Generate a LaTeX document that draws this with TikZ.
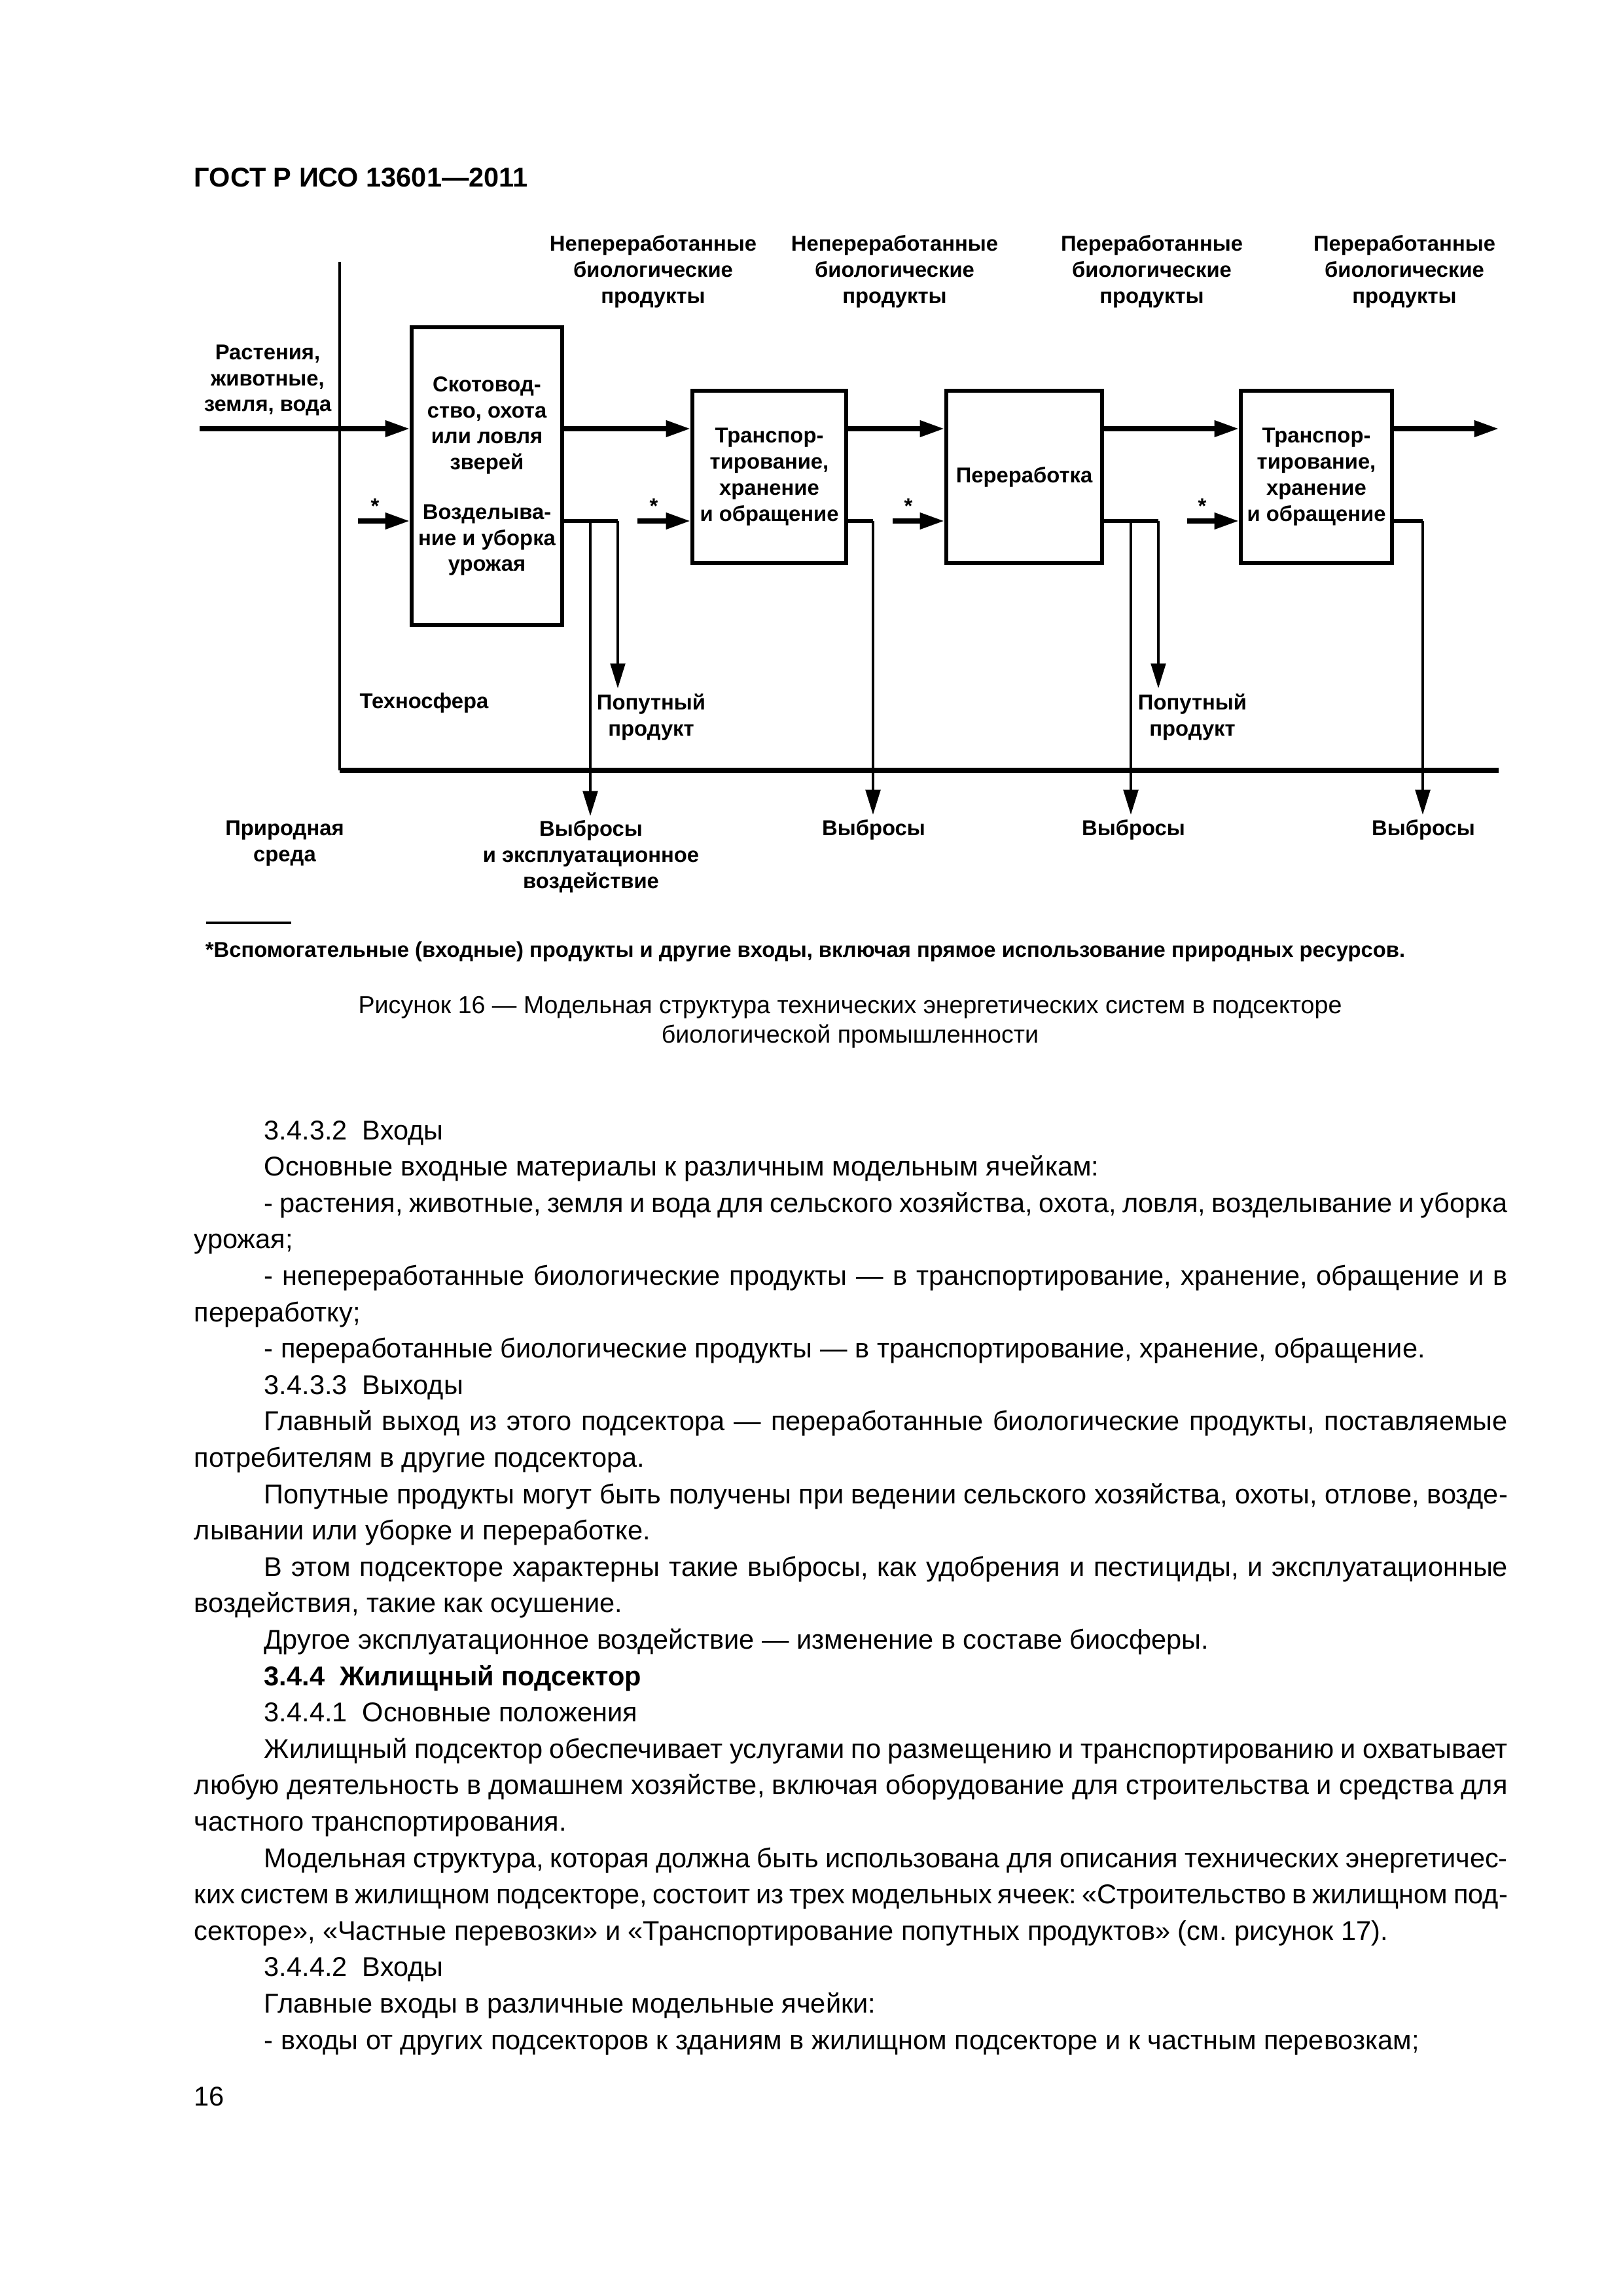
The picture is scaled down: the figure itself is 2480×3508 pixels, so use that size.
\documentclass[tikz,border=0pt]{standalone}
\usepackage{fontspec}
\setmainfont{Liberation Sans}
\usetikzlibrary{arrows.meta}
\frenchspacing
\newcommand\jind[1]{\makebox[160.87mm][s]{#1}}
\newcommand\jfull[1]{\makebox[169.93mm][s]{#1}}
\tikzset{
  lbl/.style={font=\fontsize{7.9}{9.6}\selectfont\bfseries, align=center, inner sep=0pt},
  bx/.style 2 args={draw, line width=1.5pt, lbl, minimum width=#1*0.0846667mm, minimum height=#2*0.0846667mm},
  flow/.style={line width=1.7pt, -{Triangle[length=9pt,width=5.8pt]}},
  outl/.style={line width=1.3pt},
  darr/.style={line width=1pt, -{Triangle[length=9.2pt,width=5.4pt]}},
  body/.style={font=\fontsize{10}{13}\selectfont, anchor=base west, inner sep=0pt},
  capt/.style={font=\fontsize{9.05}{10.8}\selectfont, anchor=base, inner sep=0pt},
}
\begin{document}
\begin{tikzpicture}[x=0.0846667mm,y=-0.0846667mm]
\fill[white] (0,0) rectangle (2480,3508);
\useasboundingbox (0,0) rectangle (2480,3508);

% header
\node[anchor=base west, inner sep=0pt, font=\fontsize{10}{12}\selectfont\bfseries] (hdr) at (296,285) {ГОСТ Р ИСО 13601—2011};

% top labels
\node[lbl] (top1) at (998,415) {Непереработанные\\биологические\\продукты};
\node[lbl] (top2) at (1367,415) {Непереработанные\\биологические\\продукты};
\node[lbl] (top3) at (1760,415) {Переработанные\\биологические\\продукты};
\node[lbl] (top4) at (2146,415) {Переработанные\\биологические\\продукты};

% left input label
\node[lbl] (inp) at (409,581) {Растения,\\животные,\\земля, вода};

% boxes
\node[bx={230}{455}] (b1) at (744,727.5) {Скотовод-\\ство, охота\\или ловля\\зверей\\[8.6pt]Возделыва-\\ние и уборка\\урожая};
\node[bx={235}{263}] (b2) at (1175.5,728.5) {Транспор-\\тирование,\\хранение\\и обращение};
\node[bx={238}{263}] (b3) at (1565,728.5) {Переработка};
\node[bx={231}{263}] (b4) at (2011.5,728.5) {Транспор-\\тирование,\\хранение\\и обращение};

% technosphere boundary
\coordinate (t0) at (519,400);
\coordinate (t1) at (519,1177);
\coordinate (t2) at (2290,1177);
\draw[line width=1.1pt] (t0) -- (t1);
\draw[line width=2pt] (t1) -- (t2);

% main flow
\coordinate (m0) at (305,655);
\coordinate (mend) at (2290,655);
\draw[flow] (m0) -- (m0 -| b1.west);
\draw[flow] (b1.east |- m0) -- (b2.west |- m0);
\draw[flow] (b2.east |- m0) -- (b3.west |- m0);
\draw[flow] (b3.east |- m0) -- (b4.west |- m0);
\draw[flow] (b4.east |- m0) -- (mend);

% auxiliary inputs
\coordinate (a1) at (547,796);
\coordinate (a2) at (974,796);
\coordinate (a3) at (1364,796);
\coordinate (a4) at (1814,796);
\draw[flow] (a1) -- (a1 -| b1.west);
\draw[flow] (a2) -- (a2 -| b2.west);
\draw[flow] (a3) -- (a3 -| b3.west);
\draw[flow] (a4) -- (a4 -| b4.west);
\node[lbl] (s1) at (573,773) {*};
\node[lbl] (s2) at (999,773) {*};
\node[lbl] (s3) at (1388,773) {*};
\node[lbl] (s4) at (1837,773) {*};

% bottom labels
\node[lbl, anchor=base] (tech) at (648,1082) {Техносфера};
\node[lbl, inner sep=1.9pt] (pop1) at (995,1096) {Попутный\\продукт};
\node[lbl, inner sep=1.9pt] (pop2) at (1822,1096) {Попутный\\продукт};
\node[lbl] (nat) at (435,1289) {Природная\\среда};
\node[lbl, inner sep=1.5pt] (vyb1) at (903,1309) {Выбросы\\и эксплуатационное\\воздействие};
\node[lbl, inner sep=1.5pt, anchor=base] (vyb2) at (1335,1276) {Выбросы};
\node[lbl, inner sep=1.5pt, anchor=base] (vyb3) at (1732,1276) {Выбросы};
\node[lbl, inner sep=1.5pt, anchor=base] (vyb4) at (2175,1276) {Выбросы};

% outputs
\coordinate (o1) at (944,796);
\coordinate (e1t) at (902,796);
\coordinate (o2) at (1334,796);
\coordinate (o3) at (1770,796);
\coordinate (e3t) at (1728,796);
\coordinate (o4) at (2174,796);
\draw[outl] (b1.east |- a1) -- (o1);
\draw[outl] (b2.east |- a2) -- (o2);
\draw[outl] (b3.east |- a3) -- (o3);
\draw[outl] (b4.east |- a4) -- (o4);
\draw[darr] (o1) -- (o1 |- pop1.north);
\draw[darr] (o3) -- (o3 |- pop2.north);
\draw[darr] (e1t) -- (e1t |- vyb1.north);
\draw[darr] (o2) -- (o2 |- vyb2.north);
\draw[darr] (e3t) -- (e3t |- vyb3.north);
\draw[darr] (o4) -- (o4 |- vyb4.north);

% footnote
\coordinate (fn0) at (315,1410);
\coordinate (fn1) at (445,1410);
\draw[line width=1pt] (fn0) -- (fn1);
\node[lbl, anchor=base west] (fn) at (313,1462) {*Вспомогательные (входные) продукты и другие входы, включая прямое использование природных ресурсов.};

% caption
\node[capt] (cap1) at (1299,1548) {Рисунок 16 — Модельная структура технических энергетических систем в подсекторе};
\node[capt] (cap2) at (1299,1593) {биологической промышленности};

% body text
\node[body] (l0) at (403,1741) {3.4.3.2~~Входы};
\node[body] (l1) at (403,1796.6) {Основные входные материалы к различным модельным ячейкам:};
\node[body] (l2) at (403,1852.2) {\jind{- растения, животные, земля и вода для сельского хозяйства, охота, ловля, возделывание и уборка}};
\node[body] (l3) at (296,1907.8) {урожая;};
\node[body] (l4) at (403,1963.4) {\jind{- непереработанные биологические продукты — в транспортирование, хранение, обращение и в}};
\node[body] (l5) at (296,2019) {переработку;};
\node[body] (l6) at (403,2074.6) {- переработанные биологические продукты — в транспортирование, хранение, обращение.};
\node[body] (l7) at (403,2130.2) {3.4.3.3~~Выходы};
\node[body] (l8) at (403,2185.8) {\jind{Главный выход из этого подсектора — переработанные биологические продукты, поставляемые}};
\node[body] (l9) at (296,2241.4) {потребителям в другие подсектора.};
\node[body] (l10) at (403,2297) {\jind{Попутные продукты могут быть получены при ведении сельского хозяйства, охоты, отлове, возде-}};
\node[body] (l11) at (296,2352.6) {лывании или уборке и переработке.};
\node[body] (l12) at (403,2408.2) {\jind{В этом подсекторе характерны такие выбросы, как удобрения и пестициды, и эксплуатационные}};
\node[body] (l13) at (296,2463.8) {воздействия, такие как осушение.};
\node[body] (l14) at (403,2519.4) {Другое эксплуатационное воздействие — изменение в составе биосферы.};
\node[body, font=\fontsize{10}{13}\selectfont\bfseries] (l15) at (403,2575) {3.4.4~~Жилищный подсектор};
\node[body] (l16) at (403,2630.6) {3.4.4.1~~Основные положения};
\node[body] (l17) at (403,2686.2) {\jind{Жилищный подсектор обеспечивает услугами по размещению и транспортированию и охватывает}};
\node[body] (l18) at (296,2741.8) {\jfull{любую деятельность в домашнем хозяйстве, включая оборудование для строительства и средства для}};
\node[body] (l19) at (296,2797.4) {частного транспортирования.};
\node[body] (l20) at (403,2853) {\jind{Модельная структура, которая должна быть использована для описания технических энергетичес-}};
\node[body] (l21) at (296,2908.6) {\jfull{ких систем в жилищном подсекторе, состоит из трех модельных ячеек: «Строительство в жилищном под-}};
\node[body] (l22) at (296,2964.2) {секторе», «Частные перевозки» и «Транспортирование попутных продуктов» (см. рисунок 17).};
\node[body] (l23) at (403,3019.8) {3.4.4.2~~Входы};
\node[body] (l24) at (403,3075.4) {Главные входы в различные модельные ячейки:};
\node[body] (l25) at (403,3131) {- входы от других подсекторов к зданиям в жилищном подсекторе и к частным перевозкам;};
\node[body] (pg) at (296,3217) {16};
\end{tikzpicture}
\end{document}
